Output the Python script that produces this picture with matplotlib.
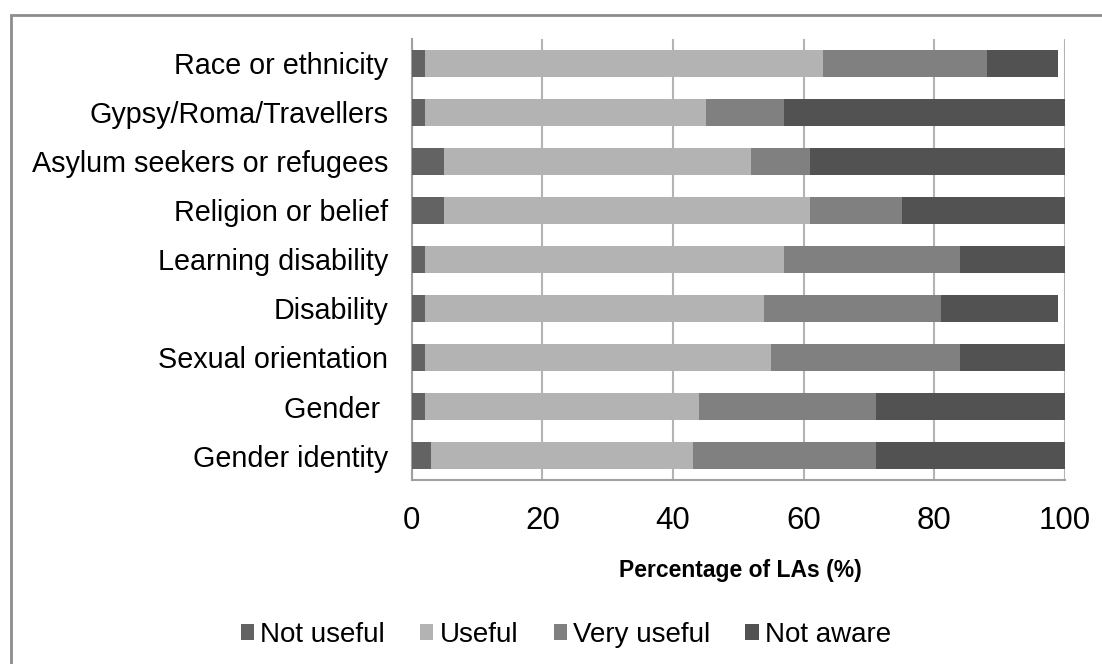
import numpy as np
import matplotlib.pyplot as plt
from matplotlib.patches import Rectangle, Patch

plt.rcParams['font.family'] = ['Liberation Sans', 'DejaVu Sans']

categories = ["Race or ethnicity", "Gypsy/Roma/Travellers", "Asylum seekers or refugees",
              "Religion or belief", "Learning disability", "Disability",
              "Sexual orientation", "Gender ", "Gender identity"]

not_useful = [2, 2, 5, 5, 2, 2, 2, 2, 3]
useful = [61, 43, 47, 56, 55, 52, 53, 42, 40]
very_useful = [25, 12, 9, 14, 27, 27, 29, 27, 28]
not_aware = [11, 43, 39, 25, 16, 18, 16, 29, 29]

series = ["Not useful", "Useful", "Very useful", "Not aware"]
colors = ["#636363", "#b3b3b3", "#808080", "#525252"]

fig = plt.figure(figsize=(11.02, 6.64), dpi=100)
ax = fig.add_axes([0.3736, 0.2771, 0.5928, 0.6642])

y = np.arange(len(categories))
left = np.zeros(len(categories))
for vals, col, name in zip([not_useful, useful, very_useful, not_aware], colors, series):
    vals = np.array(vals, dtype=float)
    ax.barh(y, vals, left=left, height=0.57, color=col, label=name, zorder=3)
    left += vals

ax.set_xlim(0, 100)
ax.set_ylim(len(categories) - 0.5, -0.5)
ax.set_xticks([0, 20, 40, 60, 80, 100])
ax.set_yticks(y)
ax.set_yticklabels(categories)
ax.tick_params(axis='both', length=0, colors='black')
ax.tick_params(axis='y', pad=17, labelsize=20.7)
ax.tick_params(axis='x', pad=19, labelsize=22.5)

ax.grid(axis='x', color='#b4b4b4', linewidth=1.5, zorder=0)
for s in ['top', 'right']:
    ax.spines[s].set_visible(False)
for s in ['left', 'bottom']:
    ax.spines[s].set_color('#a0a0a0')
    ax.spines[s].set_linewidth(1.5)

fig.text(740 / 1102, 1 - 571 / 664, "Percentage of LAs (%)", ha='center', va='center',
         fontsize=16.5, fontweight='bold')

handles = [Patch(facecolor=c, label=n) for c, n in zip(colors, series)]
fig.legend(handles=handles, loc='center', bbox_to_anchor=(566 / 1102, 1 - 635 / 664),
           ncol=4, frameon=False, fontsize=20, handlelength=0.47, handleheight=0.47,
           handletextpad=0.24, columnspacing=1.26)

# outer chart border
fig.patches.append(Rectangle((11 / 1102, -0.1), 1.2, 1 - 15 / 664 + 0.1,
                             transform=fig.transFigure, fill=False,
                             edgecolor='#8c8c8c', linewidth=2))

fig.savefig("out.png", dpi=100)
